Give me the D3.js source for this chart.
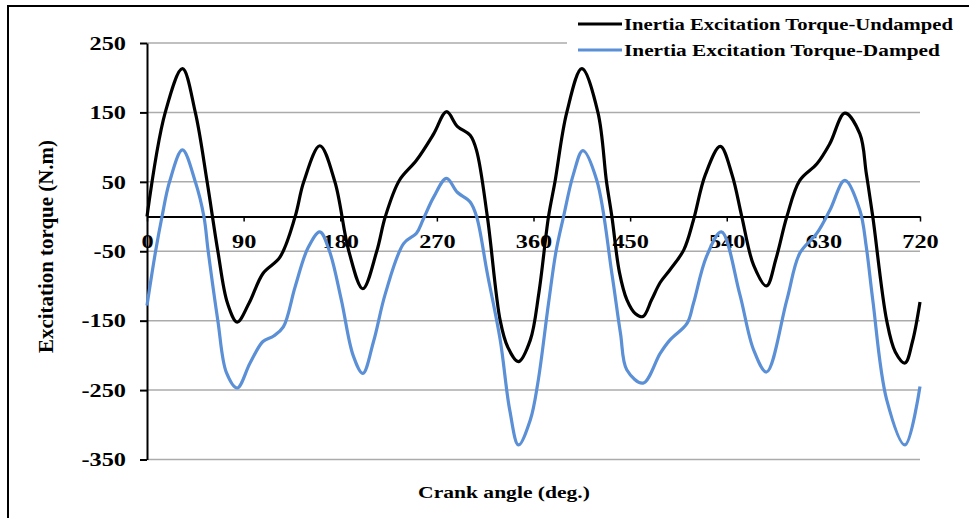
<!DOCTYPE html>
<html>
<head>
<meta charset="utf-8">
<script src="https://d3js.org/d3.v7.min.js"></script>
<style>
  body { margin: 0; background: #fff; }
  svg text { font-family: "Liberation Serif", "Times New Roman", serif; font-weight: bold; fill: #000; }
</style>
</head>
<body>
<div id="chart"></div>
<script>
const width = 969, height = 518

// values
const angleUndamped = [0, 17, 33, 45, 56, 66, 75, 84, 95, 108, 124, 138, 146, 161, 175, 188, 201, 214, 222, 235, 251, 267, 279, 289, 301, 307, 317, 329, 336, 346, 357, 365, 374, 380, 391, 405, 420, 428, 433, 440, 447, 455, 462, 470, 478, 487, 500, 509, 520, 534, 545, 554, 565, 577, 586, 596, 608, 624, 636, 650, 664, 670, 676, 689, 697, 706, 713, 720]
const torqueUndamped = [0, 150, 213, 150, 50, -50, -125, -152, -125, -82, -58, 0, 50, 102, 50, -50, -104, -50, 0, 52, 81, 119, 151, 130, 117, 95, 0, -150, -188, -209, -178, -110, 0, 50, 150, 213, 150, 50, 0, -80, -120, -140, -144, -120, -95, -77, -48, -5, 60, 101, 60, 0, -70, -100, -60, 0, 52, 76, 105, 149, 119, 62, 0, -150, -195, -211, -180, -123]

const angleDamped = [0, 8, 14, 21, 33, 45, 53, 57, 66, 74, 84, 96, 108, 118, 127, 138, 150, 161, 170, 181, 192, 201, 211, 222, 239, 251, 257, 267, 279, 289, 301, 307, 317, 329, 338, 346, 357, 364, 374, 381, 388, 397, 406, 419, 433, 441, 447, 462, 478, 487, 503, 509, 521, 535, 552, 565, 577, 596, 608, 624, 636, 650, 664, 670, 676, 689, 706, 720]
const torqueDamped = [-128, -50, 0, 50, 96, 50, 0, -50, -150, -225, -247, -211, -180, -172, -159, -101, -45, -22, -50, -120, -200, -226, -180, -111, -39, -24, -5, 28, 55, 35, 21, 0, -82, -178, -280, -329, -293, -240, -125, -50, 0, 60, 95, 52, -82, -168, -221, -240, -197, -178, -154, -125, -58, -22, -111, -192, -224, -120, -53, -24, 9, 52, 9, -44, -120, -264, -329, -245]

const yTicks = [-350, -250, -150, -50, 50, 150, 250]
const xTicks = [0, 90, 180, 270, 360, 450, 540, 630, 720]
const seriesNames = ['Inertia Excitation Torque-Undamped', 'Inertia Excitation Torque-Damped']
const seriesColors = ['#000000', '#5b8fd6']

const stretch = 1.35   // the reference text is drawn wide
const serif = '"Liberation Serif", "Times New Roman", serif'

const svg = d3.select('#chart').append('svg')
  .attr('width', width)
  .attr('height', height)

// outer frame of the chart area
svg.append('rect')
  .attr('x', 8).attr('y', 6)
  .attr('width', 975).attr('height', 530)
  .style('fill', 'white')
  .style('stroke', 'black')
  .style('stroke-width', 2)

const x = d3.scaleLinear().domain([0, 720]).range([147, 920])
const y = d3.scaleLinear().domain([-350, 250]).range([459.5, 43])

// horizontal gridlines
svg.append('g').selectAll('line')
  .data(yTicks)
  .join('line')
  .attr('x1', x(0)).attr('x2', x(720))
  .attr('y1', d => y(d)).attr('y2', d => y(d))
  .style('stroke', '#ababab')
  .style('stroke-width', 1.5)

// legend box (covers the top gridline)
const legend = svg.append('g')
legend.append('rect')
  .attr('x', 567).attr('y', 8)
  .attr('width', 400).attr('height', 54)
  .style('fill', 'white')

// y axis
const yAxis = svg.append('g')
  .attr('transform', `translate(${x(0)},0)`)
  .call(d3.axisLeft(y).tickValues(yTicks).tickFormat(d => String(d)).tickSize(7).tickSizeOuter(0))
yAxis.select('.domain').style('stroke', 'black').style('stroke-width', 2)
yAxis.selectAll('line').style('stroke', 'black').style('stroke-width', 2)
yAxis.selectAll('text')
  .attr('x', -21 / stretch)
  .attr('dy', '0.35em')
  .attr('transform', `scale(${stretch},1)`)
  .style('font-size', '18px')
  .style('font-family', serif)
  .style('font-weight', 'bold')

// x axis along zero
const xAxis = svg.append('g')
  .attr('transform', `translate(0,${y(0)})`)
  .call(d3.axisBottom(x).tickValues(xTicks).tickFormat(d => String(d)).tickSize(5).tickSizeOuter(0))
xAxis.select('.domain').style('stroke', 'black').style('stroke-width', 2)
xAxis.selectAll('line').style('stroke', 'black').style('stroke-width', 1.5)
xAxis.selectAll('text')
  .attr('y', 31)
  .attr('dy', '0')
  .attr('transform', `scale(${stretch},1)`)
  .attr('x', 0)
  .style('font-size', '18px')
  .style('font-family', serif)
  .style('font-weight', 'bold')

// lines
const line = d3.line()
  .x(d => x(d[0]))
  .y(d => y(d[1]))
  .curve(d3.curveCatmullRom.alpha(0.5))

const series = [
  d3.zip(angleUndamped, torqueUndamped),
  d3.zip(angleDamped, torqueDamped)
]

svg.append('g').selectAll('path')
  .data(series)
  .join('path')
  .attr('d', line)
  .style('fill', 'none')
  .style('stroke', (d, i) => seriesColors[i])
  .style('stroke-width', 3.2)
  .style('stroke-linejoin', 'round')

// text stretched along its run to a given length, and widened across it
function fit_text(parent, str, cx, cy, size, target_len, anchor, rotate, cross) {
  const g = parent.append('g')
  const t = g.append('text')
    .attr('text-anchor', anchor)
    .style('font-size', size + 'px')
    .text(str)
  const natural = t.node().getComputedTextLength()
  const sx = target_len / natural
  g.attr('transform', `translate(${cx},${cy}) rotate(${rotate}) scale(${sx},${cross})`)
  return g
}

// legend entries
seriesNames.forEach((name, i) => {
  const ly = 24 + i * 26
  legend.append('line')
    .attr('x1', 578).attr('x2', 622)
    .attr('y1', ly).attr('y2', ly)
    .style('stroke', seriesColors[i])
    .style('stroke-width', 3)
  fit_text(legend, name, 624, ly + 5.5, 16, i === 0 ? 329 : 316, 'start', 0, 1)
})

// axis titles
fit_text(svg, 'Crank angle (deg.)', 504, 498, 17, 172, 'middle', 0, 1)
fit_text(svg, 'Excitation torque (N.m)', 53, 246.5, 16, 213, 'middle', -90, stretch)
</script>
</body>
</html>
